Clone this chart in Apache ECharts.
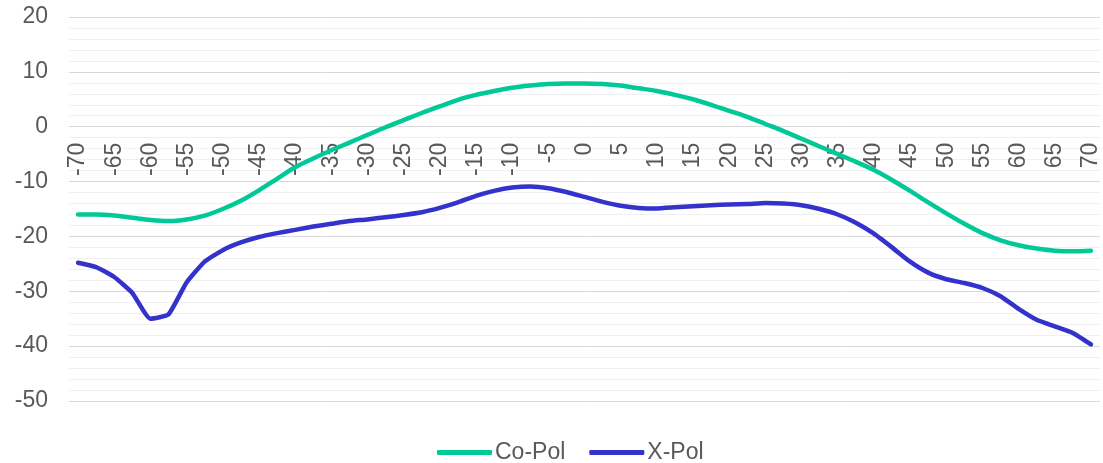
<!DOCTYPE html>
<html>
<head>
<meta charset="utf-8">
<script src="https://cdn.jsdelivr.net/npm/echarts@6/dist/echarts.min.js"></script>
<style>
html,body{margin:0;padding:0;background:#fff;}
#chart{width:1103px;height:463px;}
</style>
</head>
<body>
<div id="chart"></div>
<script>
const angles = ["-70","-67.5","-65","-62.5","-60","-57.5","-55","-52.5","-50","-47.5","-45","-42.5","-40","-37.5","-35","-32.5","-30","-27.5","-25","-22.5","-20","-17.5","-15","-12.5","-10","-7.5","-5","-2.5","0","2.5","5","7.5","10","12.5","15","17.5","20","22.5","25","27.5","30","32.5","35","37.5","40","42.5","45","47.5","50","52.5","55","57.5","60","62.5","65","67.5","70"];

const coPol = [-16.0,-16.0,-16.2,-16.6,-17.0,-17.2,-16.9,-16.2,-15.0,-13.5,-11.6,-9.5,-7.4,-5.8,-4.3,-2.9,-1.5,-0.1,1.2,2.5,3.7,4.9,5.8,6.5,7.1,7.5,7.8,7.9,7.9,7.8,7.5,7.0,6.5,5.8,5.0,4.0,2.9,1.8,0.5,-0.8,-2.2,-3.6,-5.0,-6.4,-7.9,-9.7,-11.7,-13.8,-15.8,-17.7,-19.4,-20.7,-21.6,-22.2,-22.6,-22.7,-22.6];

const xPol = [-24.8,-25.6,-27.4,-30.3,-35.0,-34.2,-28.4,-24.6,-22.5,-21.1,-20.1,-19.4,-18.8,-18.2,-17.7,-17.2,-16.9,-16.5,-16.1,-15.6,-14.8,-13.8,-12.6,-11.7,-11.1,-10.9,-11.2,-11.9,-12.8,-13.7,-14.4,-14.8,-14.9,-14.7,-14.5,-14.3,-14.2,-14.1,-13.9,-14.0,-14.3,-15.0,-16.0,-17.5,-19.5,-22.0,-24.6,-26.6,-27.8,-28.5,-29.4,-30.9,-33.2,-35.2,-36.4,-37.6,-39.7];

const seriesNames = ["Co-Pol","X-Pol"];
const yTicks = {min:-50, max:20, interval:10};

const gridTop = 17, gridBottom = 62, H = 463;
const plotH = H - gridTop - gridBottom;
// place the category axis where y = 0 (crossing), computed from the value scale
const zeroOffset = -plotH * (0 - yTicks.min) / (yTicks.max - yTicks.min);

const chart = echarts.init(document.getElementById('chart'), null, {renderer:'canvas'});
const font = 'Liberation Sans, Arial, sans-serif';
const txt = '#595959';
chart.setOption({
  animation:false,
  backgroundColor:'#ffffff',
  grid:{left:69, right:3, top:gridTop, bottom:gridBottom, containLabel:false},
  legend:{
    data:seriesNames,
    left:432, top:436,
    itemWidth:55, itemHeight:5, itemGap:24,
    icon:'roundRect',
    textStyle:{fontFamily:font, fontSize:23, color:txt, padding:[0,0,0,-2]}
  },
  xAxis:{
    type:'category',
    data:angles,
    boundaryGap:true,
    offset:zeroOffset,
    axisLine:{show:false, onZero:false},
    axisTick:{show:false},
    splitLine:{show:false},
    axisLabel:{interval:1, rotate:90, margin:16, fontFamily:font, fontSize:23, color:txt}
  },
  yAxis:{
    type:'value',
    min:yTicks.min, max:yTicks.max, interval:yTicks.interval,
    axisLine:{show:false},
    axisTick:{show:false},
    axisLabel:{margin:21, fontFamily:font, fontSize:23, color:txt},
    splitLine:{show:true, lineStyle:{color:'#d9d9d9', width:1}},
    minorTick:{show:false, splitNumber:5},
    minorSplitLine:{show:true, lineStyle:{color:'#f0f0f0', width:1}}
  },
  series:[
    {name:seriesNames[0], type:'line', data:coPol, symbol:'none', smooth:0.3,
     lineStyle:{color:'#00c896', width:4.5, cap:'round', join:'round'}, itemStyle:{color:'#00c896'}},
    {name:seriesNames[1], type:'line', data:xPol, symbol:'none', smooth:0.15,
     lineStyle:{color:'#3333cc', width:4.5, cap:'round', join:'round'}, itemStyle:{color:'#3333cc'}}
  ]
});
</script>
</body>
</html>
